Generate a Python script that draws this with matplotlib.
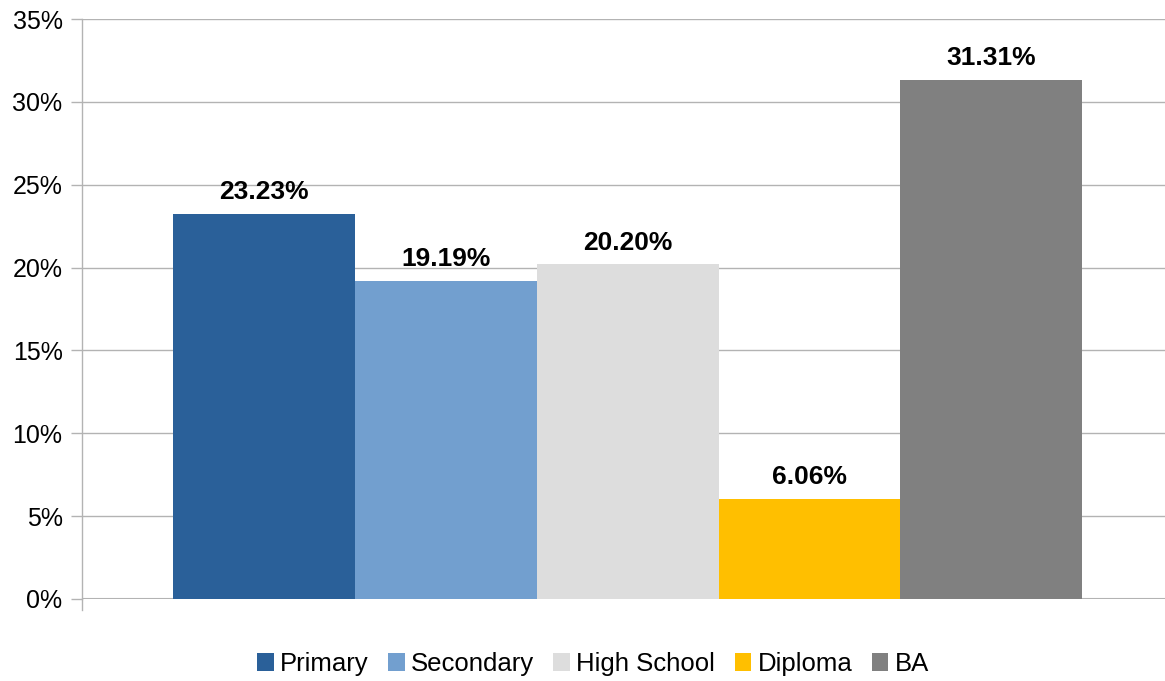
import matplotlib
matplotlib.use('Agg')
import matplotlib.pyplot as plt
from matplotlib.ticker import FuncFormatter

plt.rcParams['font.family'] = ['Liberation Sans', 'DejaVu Sans']

levels = ['Primary', 'Secondary', 'High School', 'Diploma', 'BA']
shares = [23.23, 19.19, 20.20, 6.06, 31.31]
colors = ['#2a6099', '#729fcf', '#dddddd', '#ffbf00', '#808080']

fig = plt.figure(figsize=(11.65, 6.81), dpi=100)
ax = fig.add_axes([82 / 1165, 1 - 599 / 681, 1 - 82 / 1165, 580 / 681])

for i, (name, val, col) in enumerate(zip(levels, shares, colors)):
    ax.bar(i, val, width=1.0, color=col, label=name, zorder=3)
    ax.annotate('%.2f%%' % val, (i, val), xytext=(0, 7), textcoords='offset points',
                ha='center', va='bottom', fontsize=19, fontweight='bold', zorder=4)

ax.set_xlim(-1.0, 4.955)
ax.set_ylim(0, 35)
ax.set_yticks(range(0, 36, 5))
ax.yaxis.set_major_formatter(FuncFormatter(lambda v, p: '%d%%' % v))
ax.set_xticks([])

ax.grid(axis='y', color='#b3b3b3', linewidth=1.0, zorder=0)
for s in ['top', 'right', 'bottom']:
    ax.spines[s].set_visible(False)
ax.spines['left'].set_color('#b3b3b3')
ax.spines['left'].set_linewidth(1.0)
# axis line runs a little below zero
ax.plot([0, 0], [0, -0.019], transform=ax.transAxes, color='#b3b3b3',
        linewidth=1.0, clip_on=False)
ax.axhline(0, color='#b3b3b3', linewidth=1.5, zorder=2)
ax.tick_params(axis='y', length=8, color='#b3b3b3', width=1.0, labelsize=18, pad=6)

fig.legend(loc='center', bbox_to_anchor=(593 / 1165, 1 - 664 / 681), ncol=5,
           frameon=False, fontsize=18.5, handlelength=0.65, handleheight=0.65,
           handletextpad=0.25, columnspacing=0.75)

fig.savefig('out.png', dpi=100)
